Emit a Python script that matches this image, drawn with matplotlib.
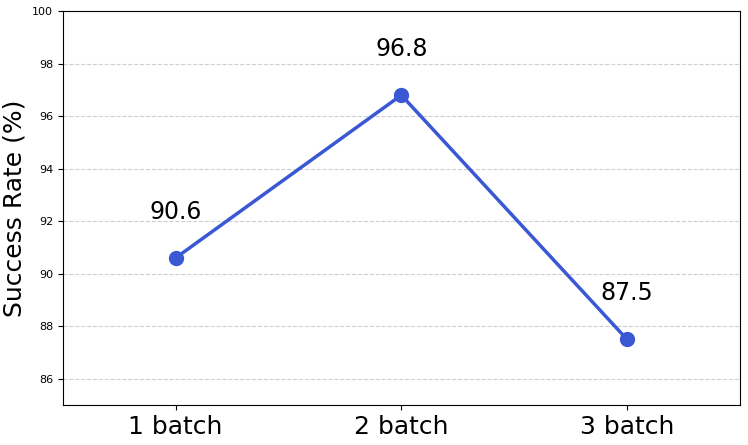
import matplotlib.pyplot as plt

# data
categories = ["1 batch", "2 batch", "3 batch"]
success_rate = [90.6, 96.8, 87.5]

fig, ax = plt.subplots(figsize=(7.48, 4.45), dpi=100)
x = range(len(categories))
ax.plot(x, success_rate, "-o", color="#3a57d4", linewidth=2.5, markersize=10)

for xi, v in zip(x, success_rate):
    ax.text(xi, v + 1.3, f"{v}", ha="center", va="bottom", fontsize=17)

ax.set_xlim(-0.5, 2.5)
ax.set_ylim(85, 100)
ax.set_yticks(range(86, 101, 2))
ax.set_xticks(list(x))
ax.set_xticklabels(categories, fontsize=18)
ax.tick_params(axis="y", labelsize=8)
ax.set_ylabel("Success Rate (%)", fontsize=18)
ax.grid(axis="y", linestyle="--", alpha=0.6)

plt.subplots_adjust(left=0.084, right=0.989, top=0.975, bottom=0.09)
plt.savefig("out.png", dpi=100)
